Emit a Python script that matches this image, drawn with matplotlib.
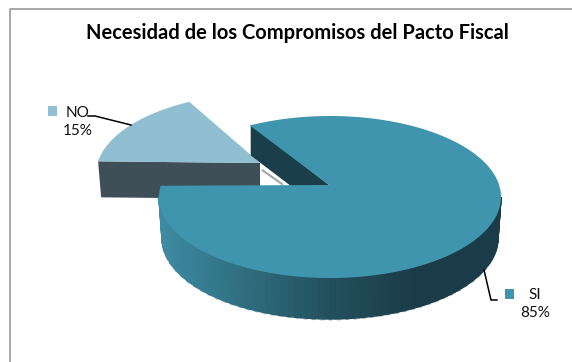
import numpy as np
import matplotlib.pyplot as plt
from matplotlib.colors import LinearSegmentedColormap
from matplotlib.patches import Polygon, Rectangle

TITLE = "Necesidad de los Compromisos del Pacto Fiscal"
CATEGORIES = ["NO", "SI"]
SHARES = [15, 85]

TOP_COLORS = {"NO": "#90bfd2", "SI": "#4095ae"}
NO_SIDE = "#3e4f57"
SI_INNER = "#1a3e4a"
FONT = "Lato"

# pie layout in pixels, y pointing down
CX, CY = 330, 197
RX, RY = 171, 81
DEPTH = 41
BOTTOM_RX = 168
START = 118
EXPLODE = (-63, -23)
APEX_LIFT = -12

wall_cmap = LinearSegmentedColormap.from_list(
    "wall", ["#3d8ba3", "#2f6c7e", "#234f5c", "#1a3c48", "#1a3c48"])


def rim(t, cx=CX, cy=CY, rx=RX, ry=RY):
    t = np.radians(t)
    return np.column_stack([cx + rx * np.cos(t), cy - ry * np.sin(t)])


fig = plt.figure(figsize=(5.72, 3.62), dpi=100)
ax = fig.add_axes([0, 0, 1, 1])
ax.set_xlim(0, 572)
ax.set_ylim(362, 0)
ax.axis("off")

# only the top and left edges of the chart border are in frame
ax.plot([10, 10, 572], [362, 9, 9], color="#9a9a9a", lw=1.2, zorder=1)

ax.text(297, 33, TITLE, ha="center", va="center", fontsize=14.5,
        fontweight="bold", family=FONT, color="black", zorder=10)

no_end = START + 360 * SHARES[0] / 100
si_end = no_end + 360 * SHARES[1] / 100

# exploded NO slice, drawn first because SI overlaps it
no_cx, no_cy = CX + EXPLODE[0], CY + EXPLODE[1]
no_rim = rim(np.linspace(START, no_end, 40) - 1, no_cx, no_cy)
no_apex = np.array([no_cx - 7, no_cy + APEX_LIFT + 1])
left = no_rim[-1]
ax.add_patch(Polygon([left, no_apex, no_apex + [0, 36], left + [3, 36]],
                     fc=NO_SIDE, ec="none", zorder=2))
ax.add_patch(Polygon(np.vstack([no_rim, no_apex]), fc=TOP_COLORS["NO"],
                     ec="none", zorder=3))

# cut face of SI showing in the gap, with its pale lower edge
si_apex = np.array([CX - 1, CY + APEX_LIFT])
back = rim(START)[0]
ax.plot([back[0] + 13, si_apex[0] - 47], [back[1] + 45, si_apex[1] - 1],
        color="#9aa8ac", lw=1.5, zorder=4)
ax.add_patch(Polygon([back + [1, -1], si_apex, si_apex + [0, 30], back + [1, 30]],
                     fc=SI_INNER, ec="none", zorder=4))

# outer wall of SI, one thin strip per step so the shade can vary
steps = np.linspace(180, 360, 91)
top_edge = rim(steps)
bottom_edge = rim(steps, CX, CY + DEPTH, BOTTOM_RX, RY)
for i in range(len(steps) - 1):
    quad = [top_edge[i], top_edge[i + 1], bottom_edge[i + 1], bottom_edge[i]]
    shade = (top_edge[i][0] - top_edge[0][0]) / (top_edge[-1][0] - top_edge[0][0])
    color = wall_cmap(shade)
    ax.add_patch(Polygon(quad, fc=color, ec=color, lw=1.0, zorder=5))
ax.plot(bottom_edge[:, 0], bottom_edge[:, 1] + 0.8, color="#a9c0c6", lw=1,
        ls=(0, (3, 3)), zorder=4.5)

# top face of SI
si_rim = rim(np.linspace(no_end, si_end, 300))
ax.add_patch(Polygon(np.vstack([si_rim, si_apex]), fc=TOP_COLORS["SI"],
                     ec="none", zorder=6))

# labels with legend keys and leader lines
label_spots = {"NO": (78, 113, 131), "SI": (535, 295, 313)}
key_spots = {"NO": (48, 106), "SI": (505, 289)}
leaders = {"NO": ([131, 95, 88], [125, 116, 116]),
           "SI": ([484, 491, 497], [270, 300, 300])}
for name, share in zip(CATEGORIES, SHARES):
    x, y1, y2 = label_spots[name]
    ax.text(x, y1, name, ha="center", va="center", fontsize=11, family=FONT,
            color="#111111", zorder=10)
    ax.text(x, y2, f"{share}%", ha="center", va="center", fontsize=11,
            family=FONT, color="#111111", zorder=10)
    ax.add_patch(Rectangle(key_spots[name], 9, 10, fc=TOP_COLORS[name],
                           ec="none", zorder=10))
    ax.plot(*leaders[name], color="black", lw=1.1, zorder=9)

fig.savefig("out.png", dpi=100)
plt.close(fig)
